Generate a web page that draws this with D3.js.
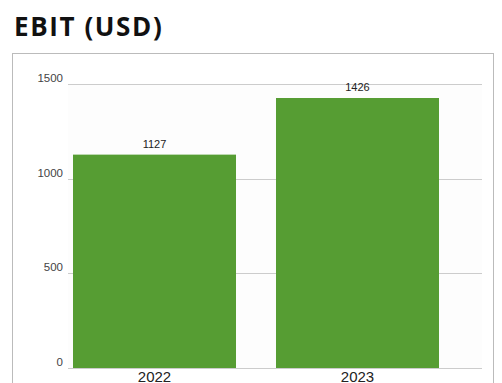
<!DOCTYPE html>
<html>
<head>
<meta charset="utf-8">
<script src="https://cdn.jsdelivr.net/npm/d3@7"></script>
<style>
  body { margin: 0; background: #fff; }
  svg { display: block; }
</style>
</head>
<body>
<svg width="502" height="383"></svg>
<script>
// chart data
var years = ["2022", "2023"];
var ebit = [1127, 1426];
var yTicks = [0, 500, 1000, 1500];

var svg = d3.select("svg");

// title
svg.append("text")
  .attr("x", 14)
  .attr("y", 36)
  .attr("font-family", "'Open Sans', sans-serif")
  .attr("font-weight", 700)
  .attr("font-size", 26)
  .attr("letter-spacing", 1.6)
  .attr("fill", "#111")
  .text("EBIT (USD)");

// panel frame
svg.append("rect")
  .attr("x", 12.5)
  .attr("y", 53.5)
  .attr("width", 481)
  .attr("height", 340)
  .attr("fill", "#fff")
  .attr("stroke", "#bbb");

var plotLeft = 68, plotRight = 482;

var y = d3.scaleLinear().domain([0, 1500]).range([368, 84]);
var x = d3.scaleBand()
  .domain(years)
  .range([53, 459])
  .paddingInner(0.197)
  .paddingOuter(0.0985);

// plot background
svg.append("rect")
  .attr("x", plotLeft)
  .attr("y", y(1500))
  .attr("width", plotRight - plotLeft)
  .attr("height", y(0) - y(1500))
  .attr("fill", "#fdfdfd");

// grid lines
svg.append("g")
  .selectAll("line")
  .data(yTicks)
  .enter().append("line")
  .attr("x1", plotLeft)
  .attr("x2", plotRight)
  .attr("y1", d => Math.round(y(d)) + 0.5)
  .attr("y2", d => Math.round(y(d)) + 0.5)
  .attr("stroke", "#ccc");

// y tick labels
svg.append("g")
  .selectAll("text")
  .data(yTicks)
  .enter().append("text")
  .attr("x", 63)
  .attr("y", d => y(d) - 2)
  .attr("text-anchor", "end")
  .attr("font-family", "Arial, 'Liberation Sans', sans-serif")
  .attr("font-size", 11.5)
  .attr("fill", "#444")
  .text(d => d);

// bars
svg.append("g")
  .selectAll("rect")
  .data(ebit)
  .enter().append("rect")
  .attr("x", (d, i) => x(years[i]))
  .attr("y", d => y(d))
  .attr("width", x.bandwidth())
  .attr("height", d => y(0) - y(d))
  .attr("fill", "#569d33");

// value labels
svg.append("g")
  .selectAll("text")
  .data(ebit)
  .enter().append("text")
  .attr("x", (d, i) => x(years[i]) + x.bandwidth() / 2)
  .attr("y", d => y(d) - 7)
  .attr("text-anchor", "middle")
  .attr("font-family", "Arial, 'Liberation Sans', sans-serif")
  .attr("font-size", 11)
  .attr("fill", "#222")
  .text(d => d);

// x labels
svg.append("g")
  .selectAll("text")
  .data(years)
  .enter().append("text")
  .attr("x", d => x(d) + x.bandwidth() / 2)
  .attr("y", 382)
  .attr("text-anchor", "middle")
  .attr("font-family", "Arial, 'Liberation Sans', sans-serif")
  .attr("font-size", 15)
  .attr("fill", "#222")
  .text(d => d);
</script>
</body>
</html>
